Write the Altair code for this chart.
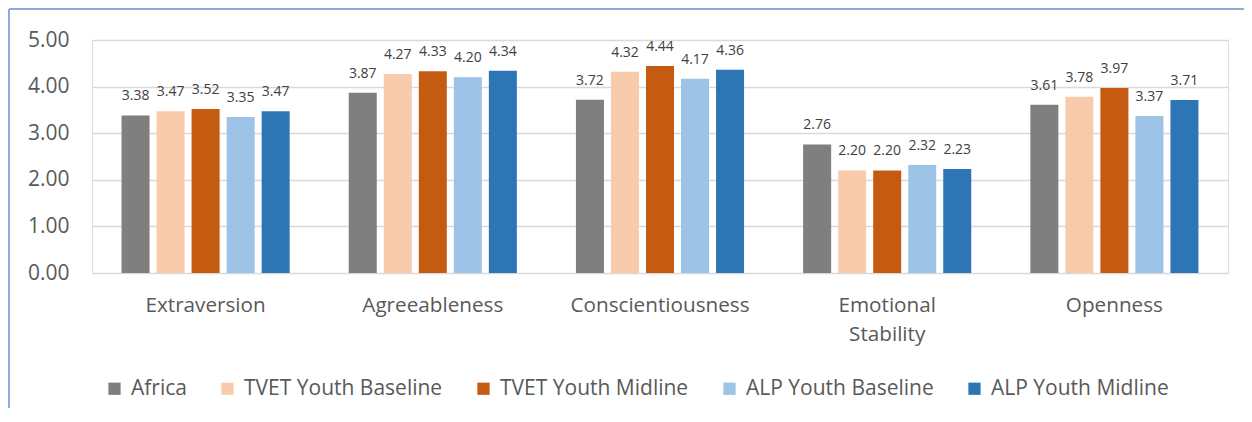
import altair as alt
import pandas as pd

categories = ["Extraversion", "Agreeableness", "Conscientiousness", "Emotional Stability", "Openness"]
series = ["Africa", "TVET Youth Baseline", "TVET Youth Midline", "ALP Youth Baseline", "ALP Youth Midline"]
colors = ["#7F7F7F", "#F8CBAD", "#C55A11", "#9DC3E6", "#2E75B6"]

africa = [3.38, 3.87, 3.72, 2.76, 3.61]
tvet_baseline = [3.47, 4.27, 4.32, 2.20, 3.78]
tvet_midline = [3.52, 4.33, 4.44, 2.20, 3.97]
alp_baseline = [3.35, 4.20, 4.17, 2.32, 3.37]
alp_midline = [3.47, 4.34, 4.36, 2.23, 3.71]

values = [africa, tvet_baseline, tvet_midline, alp_baseline, alp_midline]
rows = []
for s, vals in zip(series, values):
    for c, v in zip(categories, vals):
        rows.append({"trait": c, "group": s, "score": v})
df = pd.DataFrame(rows)

FONT = "Open Sans"

x = alt.X("trait:N", sort=categories, title=None,
          scale=alt.Scale(paddingInner=0.26, paddingOuter=0.13),
          axis=alt.Axis(labelAngle=0, ticks=False, domain=False, labelFont=FONT,
                        labelFontSize=20.7, labelColor="#595959", labelPadding=22,
                        labelLineHeight=29, labelLimit=0,
                        labelExpr="datum.value == 'Emotional Stability' ? ['Emotional', 'Stability'] : datum.value"))
xo = alt.XOffset("group:N", sort=series, scale=alt.Scale(paddingInner=0.2))
y = alt.Y("score:Q", title=None,
          scale=alt.Scale(domain=[0, 5]),
          axis=alt.Axis(values=[0, 1, 2, 3, 4, 5], format=".2f", ticks=False, domain=False,
                        labelFont=FONT, labelFontSize=21, labelColor="#595959",
                        labelPadding=23, gridColor="#D9D9D9", gridWidth=1.5))

base = alt.Chart(df)

bars = base.mark_bar().encode(
    x=x, xOffset=xo, y=y,
    color=alt.Color("group:N", sort=series,
                    scale=alt.Scale(domain=series, range=colors),
                    legend=alt.Legend(title=None, orient="none", direction="horizontal",
                                      legendX=12, legendY=338, symbolType="square",
                                      symbolSize=150, symbolStrokeWidth=0,
                                      labelFont=FONT, labelFontSize=21, labelLimit=0,
                                      labelColor="#595959", columnPadding=30,
                                      labelOffset=6)),
)

labels = base.mark_text(baseline="bottom", dy=-12, font=FONT, fontSize=14, color="#404040").encode(
    x=x, xOffset=xo, y=y,
    text=alt.Text("score:Q", format=".2f"),
)

border_df = pd.DataFrame({"a": [0]})
border_top = alt.Chart(border_df).mark_rule(color="#8EAADB", strokeWidth=2).encode(
    x=alt.value(-83), x2=alt.value(1152), y=alt.value(-31))
border_left = alt.Chart(border_df).mark_rule(color="#8EAADB", strokeWidth=2).encode(
    x=alt.value(-83), y=alt.value(-31), y2=alt.value(368))

chart = alt.layer(bars, labels, border_top, border_left).properties(
    width=1136, height=233,
    autosize=alt.AutoSizeParams(type="none"),
    padding={"left": 84, "top": 32, "right": 16, "bottom": 135},
).configure_view(stroke=None).configure(background="white")

chart.save("out.html", embed_options={"renderer": "svg", "actions": False})
